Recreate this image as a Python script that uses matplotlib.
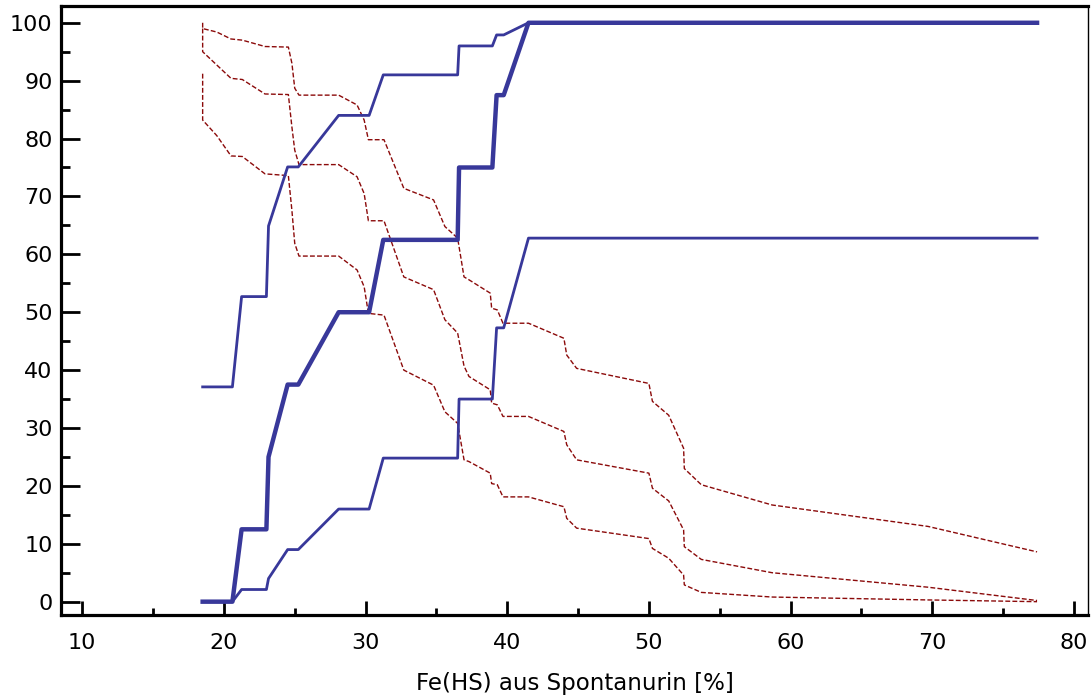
import matplotlib
matplotlib.use("Agg")
import matplotlib.pyplot as plt
from matplotlib.ticker import MultipleLocator

# criterion values (Fe(HS) %) for the sensitivity curves
sens_x = [18.5, 20.6, 21.25, 23.0, 23.15, 24.5, 25.25, 28.1, 30.25, 31.25,
          36.5, 36.6, 38.95, 39.25, 39.75, 41.5, 77.4]
sens = [0, 0, 12.5, 12.5, 25, 37.5, 37.5, 50, 50, 62.5, 62.5, 75, 75,
        87.5, 87.5, 100, 100]
sens_hi = [37.1, 37.1, 52.7, 52.7, 64.9, 75.1, 75.1, 84.0, 84.0, 91.0, 91.0,
           96.0, 96.0, 97.9, 97.9, 100, 100]
sens_lo = [0, 0, 2.1, 2.1, 4.0, 9.0, 9.0, 16.0, 16.0, 24.8, 24.8, 35.0, 35.0,
           47.3, 47.3, 62.8, 62.8]

# criterion values for the specificity curves
spec_x = [18.5, 18.5, 19.5, 20.5, 21.3, 22.9, 24.55, 24.8, 25.0, 25.3, 28.1,
          29.4, 29.9, 30.2, 31.3, 32.7, 34.8, 35.6, 36.5, 36.95, 37.3, 38.8,
          38.9, 39.3, 39.7, 41.5, 44.0, 44.2, 44.9, 50.0, 50.25, 51.4, 52.45,
          52.5, 53.7, 58.7, 69.7, 77.4]
spec_hi = [100, 99.0, 98.4, 97.2, 97.0, 95.9, 95.8, 93.0, 88.7, 87.5, 87.5,
           85.8, 83.2, 79.8, 79.8, 71.4, 69.4, 64.8, 62.8, 56.1, 55.6, 53.3,
           50.7, 50.4, 48.1, 48.1, 45.5, 42.6, 40.3, 37.7, 34.6, 32.2, 26.5,
           23.0, 20.2, 16.7, 13.0, 8.6]
spec = [99.0, 95.0, 92.7, 90.4, 90.2, 87.7, 87.6, 82.0, 78.0, 75.5, 75.5,
        73.4, 70.5, 65.8, 65.8, 56.1, 53.9, 48.7, 46.4, 40.7, 38.9, 36.6,
        34.3, 34.0, 32.0, 32.0, 29.4, 27.1, 24.5, 22.2, 19.6, 17.4, 12.4,
        9.5, 7.3, 5.0, 2.5, 0.2]
spec_lo = [91.2, 83.2, 80.5, 77.0, 76.9, 73.9, 73.6, 67.6, 61.9, 59.7, 59.7,
           57.3, 54.4, 49.8, 49.5, 40.0, 37.4, 32.8, 30.8, 24.5, 24.2, 22.2,
           20.4, 20.2, 18.1, 18.1, 16.4, 14.4, 12.7, 10.9, 9.2, 7.5, 4.6,
           2.9, 1.6, 0.8, 0.3, 0.0]

blue = "#38389a"
red = "#8b0a0a"

plt.rcParams['font.family'] = ['DejaVu Sans']

fig = plt.figure(figsize=(10.91, 6.96), dpi=100)
ax = fig.add_axes([0.0559, 0.1164, 0.9414, 0.875])

# specificity + CI (dashed red)
for ys in (spec_hi, spec, spec_lo):
    ax.plot(spec_x, ys, color=red, lw=1.0, dashes=[3.5, 1.6])

# sensitivity + CI (blue)
ax.plot(sens_x, sens_hi, color=blue, lw=2.0)
ax.plot(sens_x, sens_lo, color=blue, lw=2.0)
ax.plot(sens_x, sens, color=blue, lw=3.2)

ax.set_xlim(8.5, 81.0)
ax.set_ylim(-2.3, 102.9)

ax.xaxis.set_major_locator(MultipleLocator(10))
ax.xaxis.set_minor_locator(MultipleLocator(5))
ax.yaxis.set_major_locator(MultipleLocator(10))
ax.yaxis.set_minor_locator(MultipleLocator(5))

ax.tick_params(axis='y', which='major', direction='in', length=13.5, width=2,
               pad=6, labelsize=16)
ax.tick_params(axis='y', which='minor', direction='in', length=6.7, width=2)
ax.tick_params(axis='x', which='major', direction='in', length=10, width=2,
               pad=13, labelsize=16)
ax.tick_params(axis='x', which='minor', direction='in', length=5, width=2)

for side in ('left', 'bottom', 'top'):
    ax.spines[side].set_linewidth(2.3)
ax.spines['right'].set_linewidth(1.0)

ax.set_xlabel("Fe(HS) aus Spontanurin [%]", fontsize=16.5, labelpad=14)

fig.savefig("out.png", dpi=100)
